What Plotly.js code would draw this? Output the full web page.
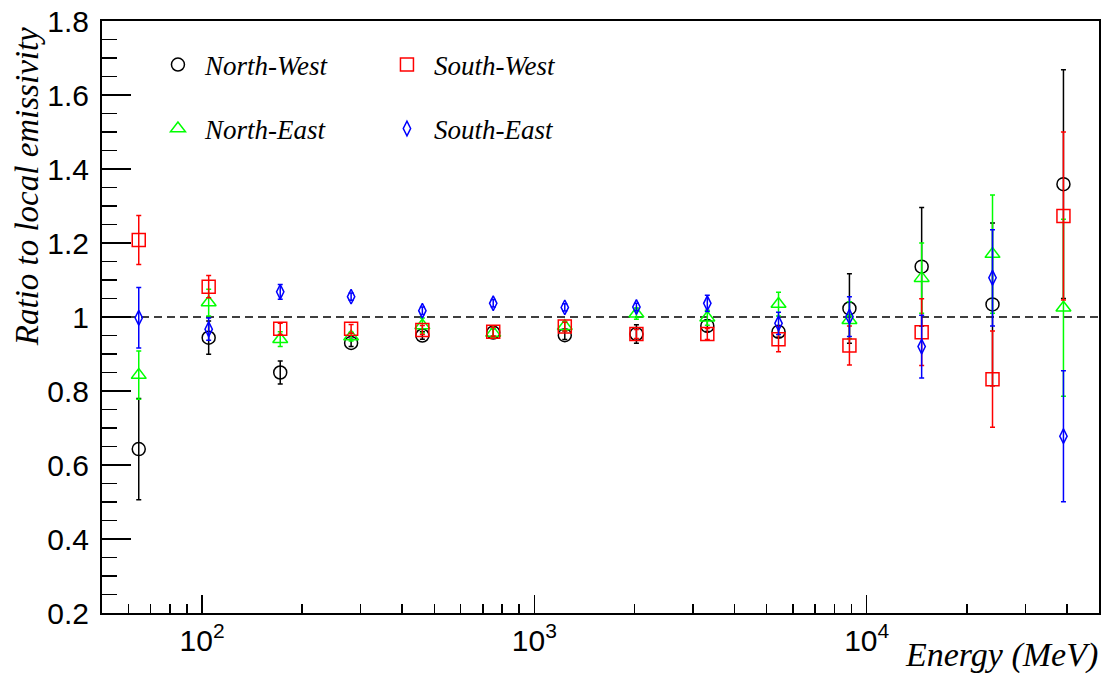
<!DOCTYPE html>
<html><head><meta charset="utf-8">
<script src="https://cdn.plot.ly/plotly-3.0.1.min.js"></script>
<style>html,body{margin:0;padding:0;background:#fff}</style>
</head><body><div id="chart" style="width:1107px;height:688px"></div>
<script>
// Energy bin centres (MeV)
const energy = [64.5, 104.7, 171.9, 280.9, 460.2, 751.9, 1234.6, 2028, 3314, 5428, 8872, 14634, 23907, 39084];

// Ratios to local emissivity and their errors
const northWest    = [0.643, 0.944, 0.850, 0.930, 0.950, 0.958, 0.951, 0.954, 0.976, 0.960, 1.023, 1.136, 1.034, 1.359];
const northWestErr = [0.137, 0.045, 0.031, 0.010, 0.010, 0.010, 0.012, 0.025, 0.015, 0.015, 0.094, 0.160, 0.220, 0.309];

const northEast    = [0.843, 1.039, 0.940, 0.947, 0.977, 0.957, 0.975, 1.009, 0.998, 1.035, 0.991, 1.105, 1.170, 1.025];
const northEastErr = [0.065, 0.036, 0.020, 0.012, 0.020, 0.012, 0.012, 0.015, 0.020, 0.032, 0.050, 0.095, 0.160, 0.239];

const southWest    = [1.208, 1.082, 0.968, 0.968, 0.965, 0.960, 0.974, 0.954, 0.954, 0.940, 0.923, 0.959, 0.832, 1.273];
const southWestErr = [0.066, 0.030, 0.015, 0.012, 0.012, 0.012, 0.012, 0.012, 0.015, 0.034, 0.053, 0.090, 0.130, 0.227];

const southEast    = [0.998, 0.967, 1.068, 1.055, 1.017, 1.037, 1.026, 1.027, 1.037, 0.983, 1.001, 0.920, 1.106, 0.678];
const southEastErr = [0.082, 0.030, 0.020, 0.010, 0.010, 0.010, 0.010, 0.010, 0.022, 0.030, 0.054, 0.085, 0.130, 0.177];

// Tick labels
const xMajorTicks = [100, 1000, 10000];
const xMajorLabels = ['10<sup>2</sup>', '10<sup>3</sup>', '10<sup>4</sup>'];
const xMinorTicks = [60, 70, 80, 90, 200, 300, 400, 500, 600, 700, 800, 900,
                     2000, 3000, 4000, 5000, 6000, 7000, 8000, 9000, 20000, 30000, 40000];

const serif = 'Liberation Serif, Times New Roman, serif';
const sans = 'Liberation Sans, Arial, Helvetica, sans-serif';

function series(name, y, err, color, symbol, size, legend, rank) {
  return {
    type: 'scatter', mode: 'markers', name: '<i>' + name + '</i>',
    x: energy, y: y,
    error_y: {type: 'data', array: err, visible: true, color: color, thickness: 1.5, width: 2.5},
    marker: {symbol: symbol, size: size, color: color, line: {color: color, width: 1.5}},
    legend: legend, legendrank: rank, cliponaxis: false
  };
}

const data = [
  series('North-West', northWest, northWestErr, '#000000', 'circle-open', 13, 'legend', 1),
  series('North-East', northEast, northEastErr, '#00ff00', 'triangle-up-open', 13, 'legend2', 1),
  series('South-West', southWest, southWestErr, '#ff0000', 'square-open', 13, 'legend', 2),
  series('South-East', southEast, southEastErr, '#0000ff', 'diamond-tall-open', 10.5, 'legend2', 2)
];

const legendCommon = {
  orientation: 'h', xanchor: 'left', yanchor: 'middle',
  itemwidth: 44,
  entrywidth: 170, entrywidthmode: 'pixels',
  font: {family: serif, size: 27, color: '#000'},
  bgcolor: 'rgba(0,0,0,0)', borderwidth: 0, traceorder: 'normal'
};

const layout = {
  width: 1107, height: 688,
  margin: {l: 102, r: 8, t: 21, b: 75},
  paper_bgcolor: '#fff', plot_bgcolor: '#fff',
  showlegend: true,
  legend: Object.assign({}, legendCommon, {x: 0.0491, y: 0.9257}),
  legend2: Object.assign({}, legendCommon, {x: 0.0491, y: 0.8176}),
  xaxis: {
    type: 'log', range: [Math.log10(50), Math.log10(50000)],
    tickmode: 'array', tickvals: xMajorTicks, ticktext: xMajorLabels,
    ticks: 'inside', ticklen: 18, tickwidth: 1.5, tickcolor: '#000',
    minor: {tickmode: 'array', tickvals: xMinorTicks, ticks: 'inside', ticklen: 9, tickwidth: 1.5, tickcolor: '#000', showgrid: false},
    showline: true, linewidth: 2, linecolor: '#000', mirror: true,
    showgrid: false, zeroline: false,
    tickfont: {family: sans, size: 30, color: '#000'}
  },
  yaxis: {
    range: [0.2, 1.8], tick0: 0.2, dtick: 0.2,
    ticks: 'inside', ticklen: 29, tickwidth: 1.5, tickcolor: '#000',
    minor: {dtick: 0.05, ticks: 'inside', ticklen: 15, tickwidth: 1.5, tickcolor: '#000', showgrid: false},
    showline: true, linewidth: 2, linecolor: '#000', mirror: true,
    showgrid: false, zeroline: false,
    ticklabelstandoff: 5,
    tickfont: {family: sans, size: 30, color: '#000'}
  },
  shapes: [{type: 'line', xref: 'paper', x0: 0, x1: 1, yref: 'y', y0: 1, y1: 1,
            line: {color: '#000', width: 1.5, dash: '8px,5px'}, layer: 'below'}],
  annotations: [
    {text: '<i>Ratio to local emissivity</i>', xref: 'paper', yref: 'paper',
     x: -0.0752, y: 0.992, xanchor: 'center', yanchor: 'top', textangle: -90, showarrow: false,
     font: {family: serif, size: 33, color: '#000'}},
    {text: '<i>Energy (MeV)</i>', xref: 'paper', yref: 'paper',
     x: 1.001, y: -0.0709, xanchor: 'right', yanchor: 'middle', showarrow: false,
     font: {family: serif, size: 34, color: '#000'}}
  ]
};

Plotly.newPlot('chart', data, layout, {displayModeBar: false, staticPlot: true});
</script>
</body></html>
